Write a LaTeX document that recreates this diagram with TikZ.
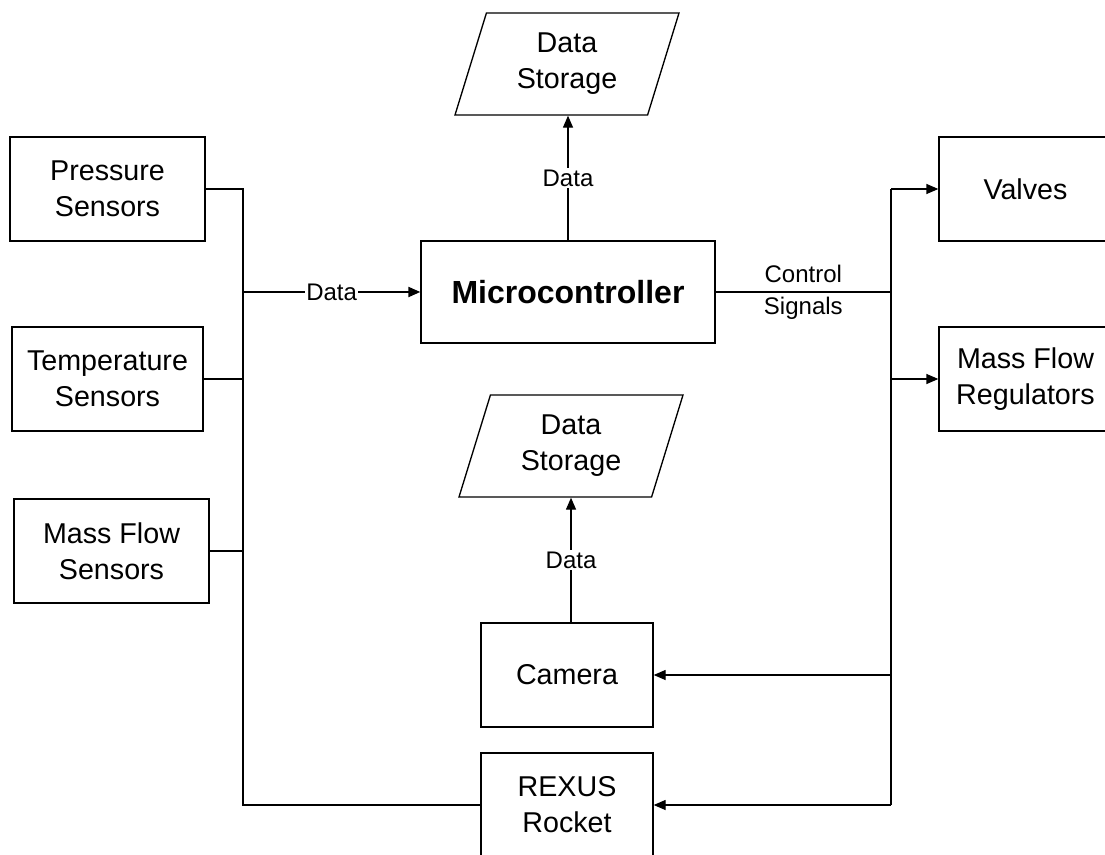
\documentclass[tikz,border=0pt]{standalone}
\usepackage{fontspec}
\setmainfont{Liberation Sans}
\usetikzlibrary{arrows.meta,shapes.geometric}
\begin{document}
\begin{tikzpicture}[x=0.75pt,y=-0.75pt,
  line width=1pt,
  box/.style 2 args={draw, rectangle, inner sep=0pt, align=center,
    minimum width=#1*0.75pt, minimum height=#2*0.75pt,
    font=\fontsize{21.5}{27}\selectfont},
  store/.style={draw, trapezium, trapezium left angle=63,
    trapezium right angle=117, trapezium stretches body,
    minimum width=224*0.75pt, minimum height=102*0.75pt,
    inner sep=0pt, align=center, font=\fontsize{21.5}{27}\selectfont},
  lbl/.style={font=\fontsize{18}{24}\selectfont, inner sep=1pt},
  tip/.style={-{Triangle[length=9pt,width=7.5pt]}},
]
\useasboundingbox (0,0) rectangle (1105,855);
\fill[white] (0,0) rectangle (1105,855);
\clip (0,0) rectangle (1105,855);

% sensor boxes on the left
\node[box={195}{104}] (press) at (107.5,189) {Pressure\\Sensors};
\node[box={191}{104}] (temp)  at (107.5,379) {Temperature\\Sensors};
\node[box={195}{104}] (mfs)   at (111.5,551) {Mass Flow\\Sensors};

% controller and storage
\node[box={294}{102}, font=\fontsize{24}{29}\selectfont\bfseries]
  (mc) at (568,292) {Microcontroller};
\node[store] (ds1) at (567,64) {Data\\Storage};
\node[store] (ds2) at (571,446) {Data\\Storage};

% camera and rocket
\node[box={172}{104}] (cam)   at (567,675) {Camera};
\node[box={172}{104}] (rexus) at (567,805) {REXUS\\Rocket};

% actuators on the right
\node[box={173}{104}] (valves) at (1025.5,189) {Valves};
\node[box={173}{104}] (mfr)    at (1025.5,379) {Mass Flow\\Regulators};

% bus points
\coordinate (lt) at (243,189);
\coordinate (lb) at (243,805);
\coordinate (rt) at (891,189);
\coordinate (rb) at (891,805);

% sensor data bus
\draw (press.east) -- (lt) -- (lb) -- (rexus.west);
\draw (temp.east) -- (temp.east -| lt);
\draw (mfs.east) -- (mfs.east -| lt);
\draw[tip, line width=1.6pt] (lt |- mc.west) --
  node[lbl, fill=white] {Data} (mc.west);

% data to storage
\draw[tip] (mc.north) -- node[lbl, fill=white] {Data} (mc.north |- ds1.south);
\draw[tip] (cam.north -| ds2.south) -- node[lbl, fill=white] {Data} (ds2.south);

% control signal bus
\draw (mc.east) -- node[lbl, align=center] {Control\\Signals} (mc.east -| rt);
\draw (rt) -- (rb);
\draw[tip] (rt) -- (valves.west);
\draw[tip] (rt |- mfr.west) -- (mfr.west);
\draw[tip] (rt |- cam.east) -- (cam.east);
\draw[tip] (rb) -- (rexus.east);
\end{tikzpicture}
\end{document}
